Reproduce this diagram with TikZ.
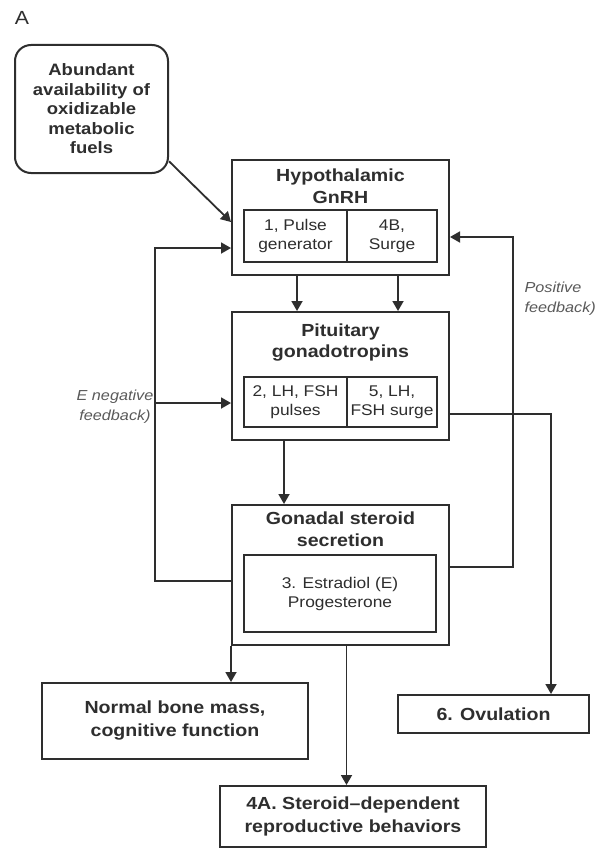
\documentclass[tikz,border=0pt]{standalone}
\usepackage{fontspec}
\setmainfont{Liberation Sans}[FakeStretch=1.12]
\usepackage{xcolor}
\usepackage{tikz}
\usetikzlibrary{arrows.meta, calc}

\definecolor{ink}{HTML}{2E2E2E}
\definecolor{note}{HTML}{5A5A5A}

\begin{document}
\begin{tikzpicture}[x=1pt, y=-1pt,
    every node/.style={text=ink},
    outerbox/.style={draw=ink, line width=2pt, minimum width=217pt},
    cellbox/.style={draw=ink, line width=1.8pt, minimum height=#1, align=center,
        font=\fontsize{15.5}{19}\selectfont, inner sep=0pt},
    title/.style={font=\fontsize{17.5}{21.5}\selectfont\bfseries, align=center},
    endbox/.style={draw=ink, line width=2pt, align=center,
        font=\fontsize{17.5}{23}\selectfont\bfseries},
    fbnote/.style={text=note, font=\fontsize{14.5}{20}\selectfont\itshape},
    arr/.style={draw=ink, line width=1.8pt, -{Triangle[length=10pt, width=11pt]}},
    wire/.style={draw=ink, line width=1.8pt}]
    \useasboundingbox[fill=white] (0,0) rectangle (601,848);

    % Panel letter
    \node[font=\fontsize{19}{19}\selectfont] (panel) at (22,18) {A};

    % Metabolic fuel input
    \node[draw=ink, line width=2pt, rounded corners=16pt, minimum width=153pt, minimum height=128pt,
        title, font=\fontsize{16.5}{19.5}\selectfont\bfseries] (fuel) at (91.5,109)
        {Abundant\\availability of\\oxidizable\\metabolic\\fuels};

    % Hypothalamus
    \node[outerbox, minimum height=115pt] (hyp) at (340.5,217.5) {};
    \node[title] (hypT) at (340.5,186) {Hypothalamic\\GnRH};
    \node[cellbox=52pt, minimum width=103pt] (hypL) at (295.5,236) {1, Pulse\\generator};
    \node[cellbox=52pt, minimum width=90pt] (hypR) at (392,236) {4B,\\Surge};

    % Pituitary
    \node[outerbox, minimum height=128pt] (pit) at (340.5,376) {};
    \node[title] (pitT) at (340.5,342.5) {Pituitary\\gonadotropins};
    \node[cellbox=50pt, minimum width=103pt] (pitL) at (295.5,402) {2, LH, FSH\\pulses};
    \node[cellbox=50pt, minimum width=90pt] (pitR) at (392,402) {5, LH,\\FSH surge};

    % Gonads
    \node[outerbox, minimum height=140pt] (gon) at (340.5,575) {};
    \node[title] (gonT) at (340.5,529) {Gonadal steroid\\secretion};
    \node[cellbox=77pt, minimum width=192pt] (gonI) at (340,593.5) {3. Estradiol (E)\\Progesterone};

    % Outcomes
    \node[endbox, minimum width=266pt, minimum height=76pt] (bone) at (175,721)
        {Normal bone mass,\\cognitive function};
    \node[endbox, minimum width=266pt, minimum height=61pt] (behav) at (353,816.5)
        {4A. Steroid--dependent\\reproductive behaviors};
    \node[endbox, minimum width=191pt, minimum height=38pt] (ovul) at (493.5,714) {6. Ovulation};

    % Feedback labels
    \node[fbnote, align=center] (negfb) at (115,407) {E negative\\feedback)};
    \node[fbnote, align=left, anchor=west] (posfb) at (521,299) {Positive\\feedback)};

    % Connectors
    \draw[arr] (fuel.-34) -- ([yshift=-4.5pt]hyp.west);
    \draw[arr] ([xshift=-43.5pt]hyp.south) -- ([xshift=-43.5pt]pit.north);
    \draw[arr] ([xshift=57.5pt]hyp.south) -- ([xshift=57.5pt]pit.north);
    \draw[arr] ([xshift=-56.5pt]pit.south) -- ([xshift=-56.5pt]gon.north);

    % Negative feedback loop
    \draw[arr] ([yshift=-6pt]gon.west) -- ++(-76,0) |- ([yshift=-30.5pt]hyp.west);
    \draw[arr] ([xshift=-76pt, yshift=-27pt]pit.west) -- ([yshift=-27pt]pit.west);

    % Positive feedback loop
    \draw[arr] ([yshift=8pt]gon.east) -- ++(63,0) |- ([yshift=-19.5pt]hyp.east);

    % Surge to ovulation
    \draw[arr] ([yshift=-38pt]pit.east) -| ([xshift=57.5pt]ovul.north);

    % Steroid actions
    \draw[arr] (gon.south west) -- (gon.south west |- bone.north);
    \draw[arr] ([xshift=6pt]gon.south) -- ([xshift=6pt]gon.south |- behav.north);
\end{tikzpicture}
\end{document}
